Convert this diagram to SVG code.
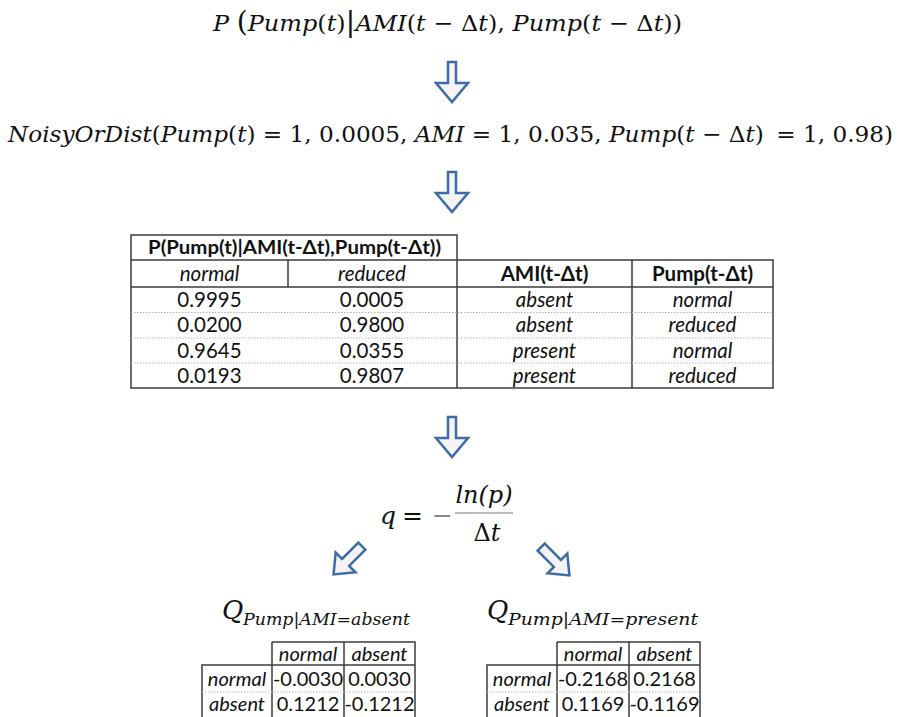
<svg xmlns="http://www.w3.org/2000/svg" width="899" height="717" viewBox="0 0 899 717">
<defs>
<path id="arrowDown" d="M-4,-20 H4 V1 H16 L0,20 L-16,1 H-4 Z"/>
<path id="arrowDiag" d="M-5,-21 H5 V2 H14 L0,19 L-14,2 H-5 Z"/>
</defs>
<style>
.math{font-family:"DejaVu Serif","Liberation Serif",serif;fill:#111}
.i{font-style:italic}
.arrow{fill:#f4f4f4;stroke:#3f6ca6;stroke-width:2.5;stroke-linejoin:miter}
.tb{font-family:Lato,"Liberation Sans",sans-serif;fill:#111;text-anchor:middle}
.b{font-weight:bold}
.grid{stroke:#3c3c3c;stroke-width:1.5;fill:none}
.dot{stroke:#b5b5b5;stroke-width:1;stroke-dasharray:1.5 1.5}
</style>
<rect width="899" height="717" fill="#fff"/>

<g id="formula-conditional">
<text class="math" x="213" y="31" font-size="23" textLength="469" lengthAdjust="spacingAndGlyphs"><tspan class="i">P</tspan> <tspan font-size="27">(</tspan><tspan class="i">Pump</tspan>(<tspan class="i">t</tspan>)<tspan font-size="28">|</tspan><tspan class="i">AMI</tspan>(<tspan class="i">t</tspan> − Δ<tspan class="i">t</tspan>), <tspan class="i">Pump</tspan>(<tspan class="i">t</tspan> − Δ<tspan class="i">t</tspan>))</text>
</g>

<g id="formula-noisyor">
<text class="math" x="8" y="142" font-size="23" textLength="885" lengthAdjust="spacingAndGlyphs"><tspan class="i">NoisyOrDist</tspan>(<tspan class="i">Pump</tspan>(<tspan class="i">t</tspan>) = 1, 0.0005, <tspan class="i">AMI</tspan> = 1, 0.035, <tspan class="i">Pump</tspan>(<tspan class="i">t</tspan> − Δ<tspan class="i">t</tspan>)<tspan dx="5"> </tspan>= 1, 0.98)</text>
</g>

<g id="cpt-table">
<path class="grid" d="M131,260 V235 H457 V260"/>
<rect class="grid" x="131" y="260" width="642" height="128"/>
<path class="grid" d="M131,287 H773 M288,260 V287 M457,260 V388 M632,260 V388"/>
<path class="dot" d="M131,312.5 H773 M131,338 H773 M131,363 H773"/>
<text class="tb b" x="294.5" y="254" font-size="18" textLength="293" lengthAdjust="spacingAndGlyphs">P(Pump(t)|AMI(t-Δt),Pump(t-Δt))</text>
<g font-size="20.5">
<text class="tb i" x="209.5" y="280.5">normal</text>
<text class="tb i" x="372" y="280.5">reduced</text>
<text class="tb b" x="544.5" y="280.5">AMI(t-Δt)</text>
<text class="tb b" x="702.5" y="280.5">Pump(t-Δt)</text>

<text class="tb" x="209.5" y="306.5">0.9995</text>
<text class="tb" x="372" y="306.5">0.0005</text>
<text class="tb i" x="544.5" y="306.5">absent</text>
<text class="tb i" x="702.5" y="306.5">normal</text>

<text class="tb" x="209.5" y="332">0.0200</text>
<text class="tb" x="372" y="332">0.9800</text>
<text class="tb i" x="544.5" y="332">absent</text>
<text class="tb i" x="702.5" y="332">reduced</text>

<text class="tb" x="209.5" y="357.5">0.9645</text>
<text class="tb" x="372" y="357.5">0.0355</text>
<text class="tb i" x="544.5" y="357.5">present</text>
<text class="tb i" x="702.5" y="357.5">normal</text>

<text class="tb" x="209.5" y="382.5">0.0193</text>
<text class="tb" x="372" y="382.5">0.9807</text>
<text class="tb i" x="544.5" y="382.5">present</text>
<text class="tb i" x="702.5" y="382.5">reduced</text>
</g>
</g>

<g id="q-formula">
<text class="math i" x="380" y="524" font-size="25">q</text>
<text class="math" x="402" y="524" font-size="25">=</text>
<text class="math" x="432" y="524" font-size="25" style="fill:#888">−</text>
<line x1="455" y1="513" x2="513" y2="513" stroke="#777" stroke-width="1"/>
<text class="math i" x="484" y="503" font-size="24" text-anchor="middle">ln(p)</text>
<text class="math" x="487" y="541" font-size="24" text-anchor="middle">Δ<tspan class="i">t</tspan></text>
</g>

<g id="q-absent">
<text class="math i" x="222" y="619" font-size="26">Q</text>
<text class="math" x="243" y="625" font-size="16" textLength="167" lengthAdjust="spacingAndGlyphs"><tspan class="i">Pump</tspan>|<tspan class="i">AMI</tspan>=<tspan class="i">absent</tspan></text>
<path class="grid" d="M272,642 H415 V717 M344,642 V717 M272,642 V717 M202,717 V665 H415"/>
<path class="dot" d="M202,692 H415"/>
<g font-size="20">
<text class="tb i" x="308" y="661">normal</text>
<text class="tb i" x="379.5" y="661">absent</text>
<text class="tb i" x="237" y="686">normal</text>
<text class="tb" x="308" y="686">-0.0030</text>
<text class="tb" x="379.5" y="686">0.0030</text>
<text class="tb i" x="237" y="711">absent</text>
<text class="tb" x="308" y="711">0.1212</text>
<text class="tb" x="379.5" y="711">-0.1212</text>
</g>
</g>

<g id="q-present">
<text class="math i" x="487" y="619" font-size="26">Q</text>
<text class="math" x="508" y="625" font-size="16" textLength="190" lengthAdjust="spacingAndGlyphs"><tspan class="i">Pump</tspan>|<tspan class="i">AMI</tspan>=<tspan class="i">present</tspan></text>
<path class="grid" d="M557,642 H700 V717 M629,642 V717 M557,642 V717 M487,717 V665 H700"/>
<path class="dot" d="M487,692 H700"/>
<g font-size="20">
<text class="tb i" x="593" y="661">normal</text>
<text class="tb i" x="664.5" y="661">absent</text>
<text class="tb i" x="522" y="686">normal</text>
<text class="tb" x="593" y="686">-0.2168</text>
<text class="tb" x="664.5" y="686">0.2168</text>
<text class="tb i" x="522" y="711">absent</text>
<text class="tb" x="593" y="711">0.1169</text>
<text class="tb" x="664.5" y="711">-0.1169</text>
</g>
</g>

<g id="connectors">
<use href="#arrowDown" class="arrow" transform="translate(452,82)"/>
<use href="#arrowDown" class="arrow" transform="translate(452,192)"/>
<use href="#arrowDown" class="arrow" transform="translate(452,437)"/>
<use href="#arrowDiag" class="arrow" transform="translate(347,561) rotate(45)"/>
<use href="#arrowDiag" class="arrow" transform="translate(556,562) rotate(-45)"/>
</g>
</svg>
